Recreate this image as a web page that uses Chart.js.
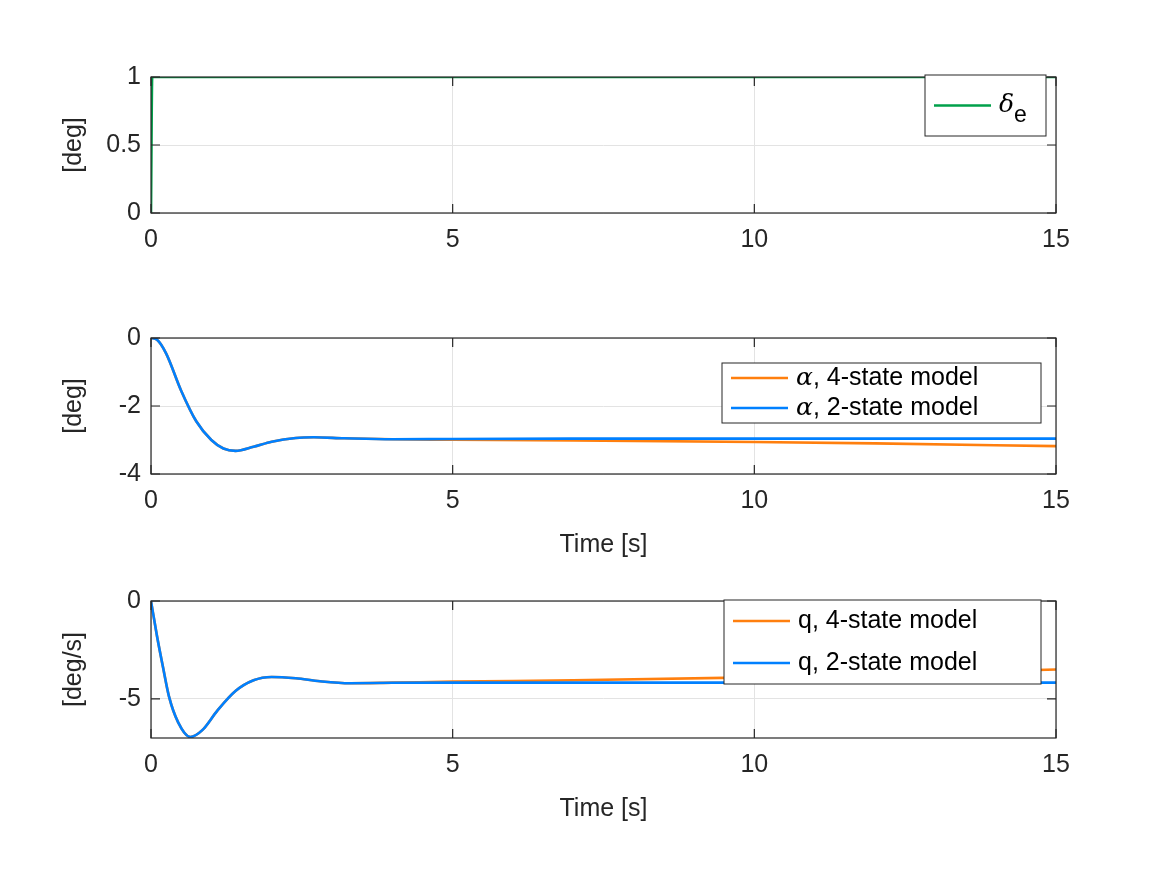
<!DOCTYPE html>
<html><head><meta charset="utf-8">
<script src="https://cdn.jsdelivr.net/npm/chart.js@4"></script>
<style>body{margin:0;background:#fff;width:1167px;height:875px;position:relative;overflow:hidden}canvas{position:absolute;left:0}</style>
</head><body>
<canvas id="c1" style="top:52px" width="1167" height="211"></canvas>
<canvas id="c2" style="top:313px" width="1167" height="251"></canvas>
<canvas id="c3" style="top:576px" width="1167" height="252"></canvas>
<script>
const deltaT=[0,0.02,15];
const deltaV=[0,1,1];
const alphaT2=[0,0.1,0.25,0.5,0.75,1.0,1.2,1.4,1.7,2.0,2.4,2.7,3.2,4,5,7,10,15];
const alpha2=[0,-0.05,-0.45,-1.55,-2.45,-3.0,-3.25,-3.32,-3.2,-3.05,-2.94,-2.92,-2.95,-2.98,-2.97,-2.96,-2.96,-2.96];
const alphaT4=[0,0.1,0.25,0.5,0.75,1.0,1.2,1.4,1.7,2.0,2.4,2.7,3.2,4,5,7,10,12,15];
const alpha4=[0,-0.05,-0.45,-1.55,-2.45,-3.0,-3.25,-3.32,-3.2,-3.05,-2.94,-2.92,-2.95,-2.98,-2.99,-3.01,-3.06,-3.1,-3.18];
const qT2=[0,0.1,0.2,0.3,0.45,0.65,0.85,1.1,1.4,1.7,2.0,2.4,2.8,3.3,4,5,10,15];
const q2=[0,-1.8,-3.4,-4.9,-6.2,-6.95,-6.6,-5.6,-4.6,-4.05,-3.88,-3.95,-4.1,-4.2,-4.18,-4.17,-4.17,-4.17];
const qT4=[0,0.1,0.2,0.3,0.45,0.65,0.85,1.1,1.4,1.7,2.0,2.4,2.8,3.3,4,5,7,10,12,15];
const q4=[0,-1.8,-3.4,-4.9,-6.2,-6.95,-6.6,-5.6,-4.6,-4.05,-3.88,-3.95,-4.1,-4.2,-4.17,-4.12,-4.05,-3.9,-3.75,-3.5];
const xTicks=[0,5,10,15];

const F='"Liberation Sans", Arial, sans-serif';
const TXT='#262626';
const pts=(t,v)=>t.map((x,i)=>({x,y:v[i]}));
const boxPlugin={id:'box',afterDraw(ch){const a=ch.chartArea,c=ch.ctx;c.save();c.strokeStyle='#262626';c.lineWidth=1.2;c.strokeRect(a.left,a.top,a.right-a.left,a.bottom-a.top);
c.beginPath();const xs=ch.scales.x,ys=ch.scales.y;
xs.ticks.forEach(t=>{const p=xs.getPixelForValue(t.value);c.moveTo(p,a.bottom);c.lineTo(p,a.bottom-9);c.moveTo(p,a.top);c.lineTo(p,a.top+9);});
ys.ticks.forEach(t=>{const p=ys.getPixelForValue(t.value);c.moveTo(a.left,p);c.lineTo(a.left+9,p);c.moveTo(a.right,p);c.lineTo(a.right-9,p);});
c.stroke();
const L=ch.options.plugins.box.legend;if(L){
 const oy=ch.canvas.offsetTop;
 c.fillStyle='#fff';c.fillRect(L.x,L.y-oy,L.w,L.h);c.strokeStyle='#262626';c.lineWidth=1;c.strokeRect(L.x,L.y-oy,L.w,L.h);
 L.items.forEach((it,i)=>{const y=L.y-oy+L.h/(2*L.items.length)*(2*i+1);
  c.strokeStyle=it.color;c.lineWidth=2.5;c.beginPath();c.moveTo(L.x+9,y);c.lineTo(L.x+66,y);c.stroke();
  c.fillStyle='#000';c.textBaseline='middle';let x=L.x+74;
  it.parts.forEach(p=>{c.font=p.f;c.fillText(p.t,x,y+(p.dy||0));x+=c.measureText(p.t).width;});});
}
c.restore();}};
function mk(id,datasets,ymin,ymax,yticks,ytitle,xtitle,legend,xh){
 return new Chart(document.getElementById(id),{type:'scatter',
 data:{datasets:datasets.map(d=>({data:d.data,borderColor:d.color,borderWidth:2.6,showLine:true,pointRadius:0,cubicInterpolationMode:'monotone',order:d.order||0}))},
 options:{responsive:false,animation:false,layout:{padding:{left:55,right:111,top:0,bottom:0}},
  plugins:{legend:{display:false},tooltip:{enabled:false},box:{legend}},
  scales:{x:{type:'linear',min:0,max:15,afterBuildTicks(s){s.ticks=xTicks.map(v=>({value:v}));},
    grid:{color:'#e3e3e3',drawTicks:false},border:{display:false},
    ticks:{font:{family:F,size:25},color:TXT,padding:12,callback:v=>String(v)},
    title:{display:!!xtitle,text:xtitle,font:{family:F,size:25},color:TXT,padding:{top:2}},
    afterFit(s){s.height=xh;}},
   y:{min:ymin,max:ymax,afterBuildTicks(s){s.ticks=yticks.map(v=>({value:v}));},
    grid:{color:'#e3e3e3',drawTicks:false},border:{display:false},
    ticks:{font:{family:F,size:25},color:TXT,padding:10,callback:v=>String(v)},
    title:{display:true,text:ytitle,font:{family:F,size:25},color:TXT,padding:{bottom:4}},
    afterFit(s){s.width=96;}}}},
 plugins:[boxPlugin]});
}
const serif='italic 25px "DejaVu Serif", serif', sans='25px '+F;
mk('c1',[{data:pts(deltaT,deltaV),color:'#00a04a'}],0,1,[0,0.5,1],'[deg]','',
 {x:925,y:75,w:121,h:61,items:[{color:'#00a04a',parts:[{t:'δ',f:serif},{t:'e',f:'23px '+F,dy:10}]}]},50);
mk('c2',[{data:pts(alphaT4,alpha4),color:'#ff7f0e',order:2},{data:pts(alphaT2,alpha2),color:'#0080ff',order:1}],-4,0,[-4,-2,0],'[deg]','Time [s]',
 {x:722,y:363,w:319,h:60,items:[{color:'#ff7f0e',parts:[{t:'α',f:serif},{t:', 4-state model',f:sans}]},{color:'#0080ff',parts:[{t:'α',f:serif},{t:', 2-state model',f:sans}]}]},90);
mk('c3',[{data:pts(qT4,q4),color:'#ff7f0e',order:2},{data:pts(qT2,q2),color:'#0080ff',order:1}],-7,0,[-5,0],'[deg/s]','Time [s]',
 {x:724,y:600,w:317,h:84,items:[{color:'#ff7f0e',parts:[{t:'q, 4-state model',f:sans}]},{color:'#0080ff',parts:[{t:'q, 2-state model',f:sans}]}]},90);
</script></body></html>
